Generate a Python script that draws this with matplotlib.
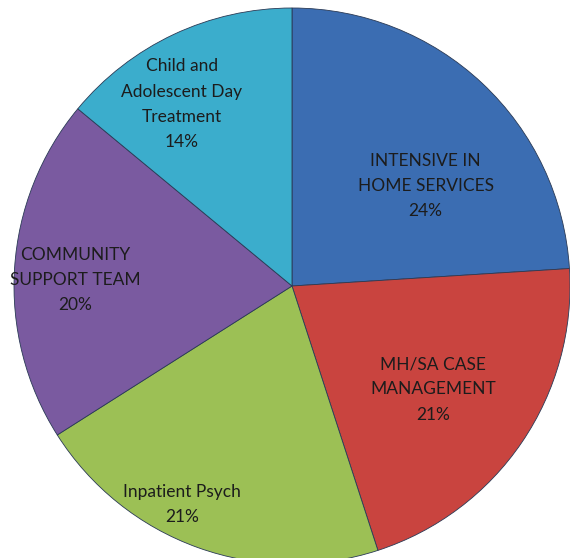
import numpy as np
import matplotlib.pyplot as plt

# Доли услуг (в процентах), по часовой стрелке от 12 часов
labels = ['INTENSIVE IN\nHOME SERVICES', 'MH/SA CASE\nMANAGEMENT', 'Inpatient Psych',
          'COMMUNITY\nSUPPORT TEAM', 'Child and\nAdolescent Day\nTreatment']
shares = [24, 21, 21, 20, 14]

colors = ['#3b6db2', '#c9443f', '#9cc055', '#7a5aa0', '#3badcc']
# Смещение подписи: доля радиуса и поворот (градусы) относительно середины сектора
label_r = [0.60, 0.63, 0.88, 0.78, 0.765]
label_dang = [-10, -2, -7, 2, 6]

plt.rcParams['font.family'] = ['Lato', 'DejaVu Sans']

fig = plt.figure(figsize=(5.7, 5.58), dpi=100)
ax = fig.add_axes([0, 0, 1, 1])

cx, cy, R = 292, 558 - 286, 278
wedges, _ = ax.pie(shares, colors=colors, startangle=90, counterclock=False,
                   center=(cx, cy), radius=R,
                   wedgeprops=dict(edgecolor='#2a3a55', linewidth=0.6))

# Подписи внутри секторов
for w, lab, v, r, da in zip(wedges, labels, shares, label_r, label_dang):
    ang = np.deg2rad((w.theta1 + w.theta2) / 2 + da)
    x = cx + r * R * np.cos(ang)
    y = cy + r * R * np.sin(ang)
    ax.text(x, y, f'{lab}\n{v}%', ha='center', va='center', fontsize=12.5,
            color='#1c1c1c', linespacing=1.7)

ax.set_xlim(0, 570)
ax.set_ylim(0, 558)
ax.set_aspect('equal')
ax.axis('off')

fig.savefig('out.png', dpi=100)
